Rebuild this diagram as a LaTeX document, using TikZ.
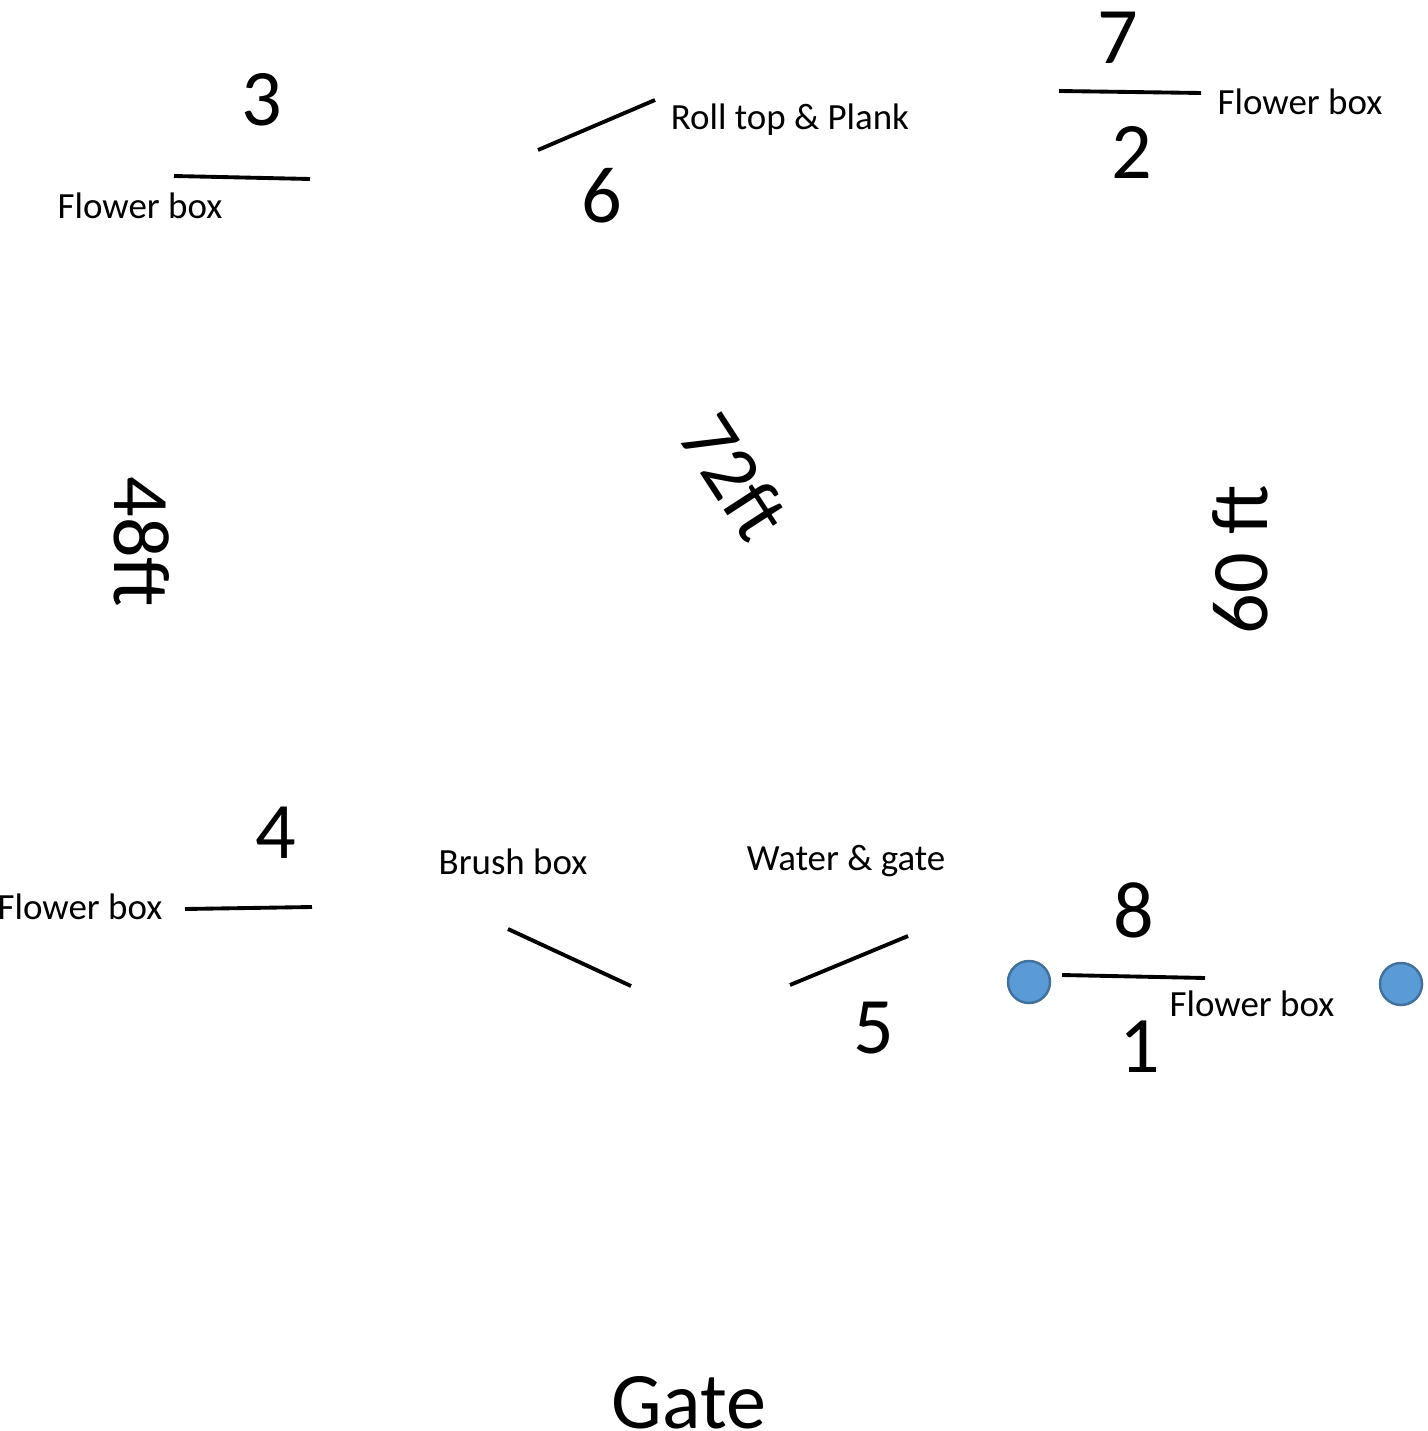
\documentclass[tikz,border=0pt]{standalone}
\usepackage{fontspec}
\setmainfont{Carlito}
\usetikzlibrary{positioning}
\definecolor{cone}{HTML}{5B9BD5}
\definecolor{coneedge}{HTML}{41719C}
\tikzset{
  num/.style={anchor=base,inner sep=0pt,font=\fontsize{22.8}{27}\selectfont},
  big/.style={inner sep=0pt,font=\fontsize{22.8}{27}\selectfont},
  lbl/.style={anchor=base,inner sep=0pt,font=\fontsize{10.5}{12.6}\selectfont},
  jump/.style={line width=1.1pt},
  marker/.style={circle,draw=coneedge,fill=cone,line width=0.7pt,minimum size=0.42cm,inner sep=0pt}
}
\begin{document}
\begin{tikzpicture}[x=0.01cm,y=-0.01cm]
\useasboundingbox (0,0) rectangle (1428,1431);
% jump numbers
\node[num] (n3) at (262,126){3};
\node[num] (n6) at (602,223){6};
\node[num] (n7) at (1118,64){7};
\node[num] (n2) at (1132,179){2};
\node[num] (n4) at (276,858){4};
\node[num] (n5) at (874,1053){5};
\node[num] (n8) at (1134,937){8};
\node[num] (n1) at (1140,1072){1};
% labels
\node[lbl] (fb3) at (140,219){Flower box};
\node[lbl] (rtp) at (790,130){Roll top \& Plank};
\node[lbl] (fb7) at (1300,115){Flower box};
\node[lbl] (fb4) at (80,919){Flower box};
\node[lbl] (bb) at (513,874){Brush box};
\node[lbl] (wg) at (846,870){Water \& gate};
\node[lbl] (fb8) at (1252,1016){Flower box};
\node[num] (gate) at (689,1428){Gate};
% distances
\node[big,rotate=-90] (d48) at (142,542){48ft};
\node[big,rotate=-57] (d72) at (735,476){72ft};
\node[big,rotate=90] (d60) at (1240,560){60 ft};
% fences
\coordinate (a3) at (174,176); \coordinate (b3) at (310,179);
\coordinate (a6) at (538,150); \coordinate (b6) at (655,100);
\coordinate (a7) at (1059,91); \coordinate (b7) at (1201,93);
\coordinate (a4) at (185,909); \coordinate (b4) at (312,907);
\coordinate (ab) at (508,929); \coordinate (bb2) at (631,986);
\coordinate (a5) at (790,985); \coordinate (b5) at (908,936);
\coordinate (a8) at (1062,975); \coordinate (b8) at (1205,978);
\foreach \from/\to in {a3/b3,a6/b6,a7/b7,a4/b4,ab/bb2,a5/b5,a8/b8}
  \draw[jump] (\from) -- (\to);
% start markers
\node[marker] (c1) at (1029,982){};
\node[marker] (c2) at (1401,984){};
\end{tikzpicture}
\end{document}
